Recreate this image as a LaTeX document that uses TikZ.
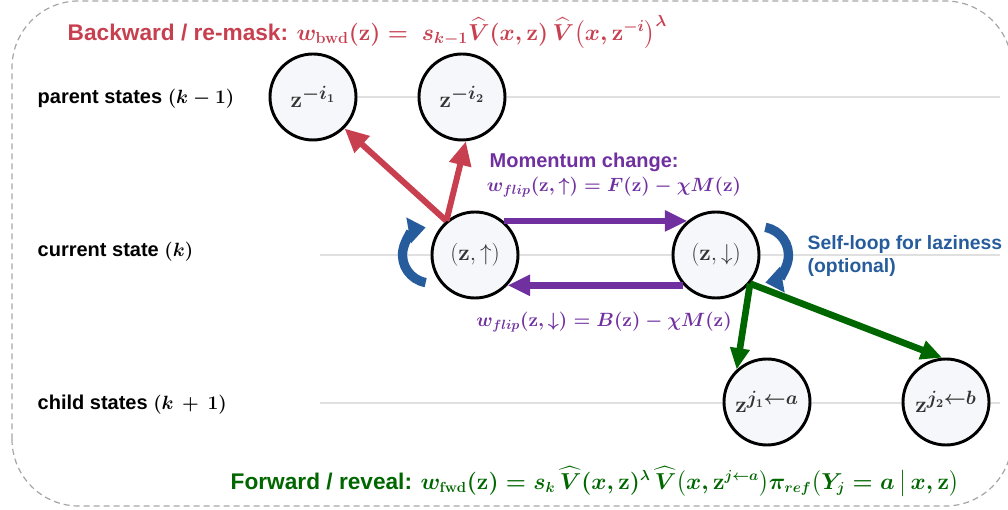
\documentclass[tikz,border=0pt]{standalone}
\usepackage{amsmath,amssymb}
\usepackage[no-math]{fontspec}
\newfontfamily\lsans{Liberation Sans}
\usetikzlibrary{arrows.meta}
\definecolor{bwdred}{RGB}{200,64,80}
\definecolor{flippurple}{RGB}{112,48,160}
\definecolor{loopblue}{RGB}{38,92,156}
\definecolor{fwdgreen}{RGB}{0,102,0}
\definecolor{statefill}{RGB}{246,247,250}

\begin{document}
\begin{tikzpicture}[x=0.75pt, y=0.75pt,
  state/.style={circle, draw=black, line width=2.2pt, fill=statefill, minimum size=64.5pt, inner sep=0pt, text=black!80, font=\fontsize{19}{22}\selectfont},
  rowlabel/.style={anchor=west, font=\lsans\bfseries\fontsize{15}{18}\selectfont},
  rowline/.style={line width=1.1pt, black!12},
  bwd/.style={bwdred, line width=4.5pt, -{Triangle[length=18pt, width=16pt]}},
  flip/.style={flippurple, line width=5pt, -{Triangle[length=17pt, width=15pt]}},
  fwd/.style={fwdgreen, line width=5pt, -{Triangle[length=16pt, width=14pt]}},
  lazy/.style={loopblue, line width=7pt, -{Triangle[length=13pt, width=19pt]}}]
  \useasboundingbox (0,0) rectangle (1008,510);
  \draw[black!35, line width=0.9pt, dash pattern=on 4.5pt off 3pt, rounded corners=50pt] (12,4) rectangle (1012,509);

  \draw[rowline] (356,413) -- (1000,413);
  \draw[rowline] (320,255) -- (1000,255);
  \draw[rowline] (320,107) -- (1000,107);

  \node[rowlabel] (lp) at (33,411) {parent states {\boldmath$(k-1)$}};
  \node[rowlabel] (lc) at (33,258) {current state {\boldmath$(k)$}};
  \node[rowlabel] (lch) at (33,105) {child states {\boldmath$(k\,+\,1)$}};

  \node[state] (p1) at (313,413) {{\boldmath$\mathbf{z}^{-i_1}$}};
  \node[state] (p2) at (462,413) {{\boldmath$\mathbf{z}^{-i_2}$}};
  \node[state] (up) at (475,255) {$(\mathbf{z},\uparrow)$};
  \node[state] (dn) at (716,255) {$(\mathbf{z},\downarrow)$};
  \node[state] (c1) at (767,108) {{\boldmath$\mathbf{z}^{j_1\leftarrow a}$}};
  \node[state] (c2) at (946,108) {{\boldmath$\mathbf{z}^{j_2\leftarrow b}$}};

  \draw[bwd] (up.130) -- (p1.-45);
  \draw[bwd] (up.130) -- (p2.-85);
  \draw[flip] (up.50) -- (dn.130);
  \draw[flip] (dn.-137) -- (up.-43);
  \draw[fwd] (dn.-40) -- (c1.133);
  \draw[fwd] (dn.-40) -- (c2.95);
  \draw[lazy] ([shift={(260:28)}]up.west) arc[start angle=260, end angle=100, radius=28];
  \draw[lazy] ([shift={(80:28)}]dn.east) arc[start angle=80, end angle=-80, radius=28];

  \node[anchor=west, text=bwdred] (bwdlbl) at (63,478) {\lsans\bfseries\fontsize{17}{20}\selectfont Backward / re-mask: {\fontsize{17.5}{20}\selectfont\boldmath$w_{\mathrm{bwd}}(\mathbf{z}) = \ s_{k-1}\widehat{V}(x,\mathbf{z})\,\widehat{V}\big(x,\mathbf{z}^{-i}\big)^{\lambda}$}};
  \node[anchor=west, text=flippurple, font=\lsans\bfseries\fontsize{15}{18}\selectfont] (mom) at (485,348) {Momentum change:};
  \node[text=flippurple, font=\fontsize{14}{17}\selectfont] (wup) at (614,323) {{\boldmath$w_{flip}(\mathbf{z},\uparrow) = F(\mathbf{z}) - \chi M(\mathbf{z})$}};
  \node[text=flippurple, font=\fontsize{14}{17}\selectfont] (wdn) at (604,188) {{\boldmath$w_{flip}(\mathbf{z},\downarrow) = B(\mathbf{z}) - \chi M(\mathbf{z})$}};
  \node[anchor=west, align=left, text=loopblue, font=\lsans\bfseries\fontsize{14.5}{17.5}\selectfont] (lazylbl) at (803,254) {Self-loop for laziness\\(optional)};
  \node[anchor=west, text=fwdgreen] (fwdlbl) at (226,28) {\lsans\bfseries\fontsize{17}{20}\selectfont Forward / reveal: {\fontsize{16}{19}\selectfont\boldmath$w_{\mathrm{fwd}}(\mathbf{z}) = s_k\,\widehat{V}(x,\mathbf{z})^{\lambda}\,\widehat{V}\big(x,\mathbf{z}^{j\leftarrow a}\big)\pi_{ref}\big(Y_j = a\,\big|\,x,\mathbf{z}\big)$}};
\end{tikzpicture}
\end{document}
